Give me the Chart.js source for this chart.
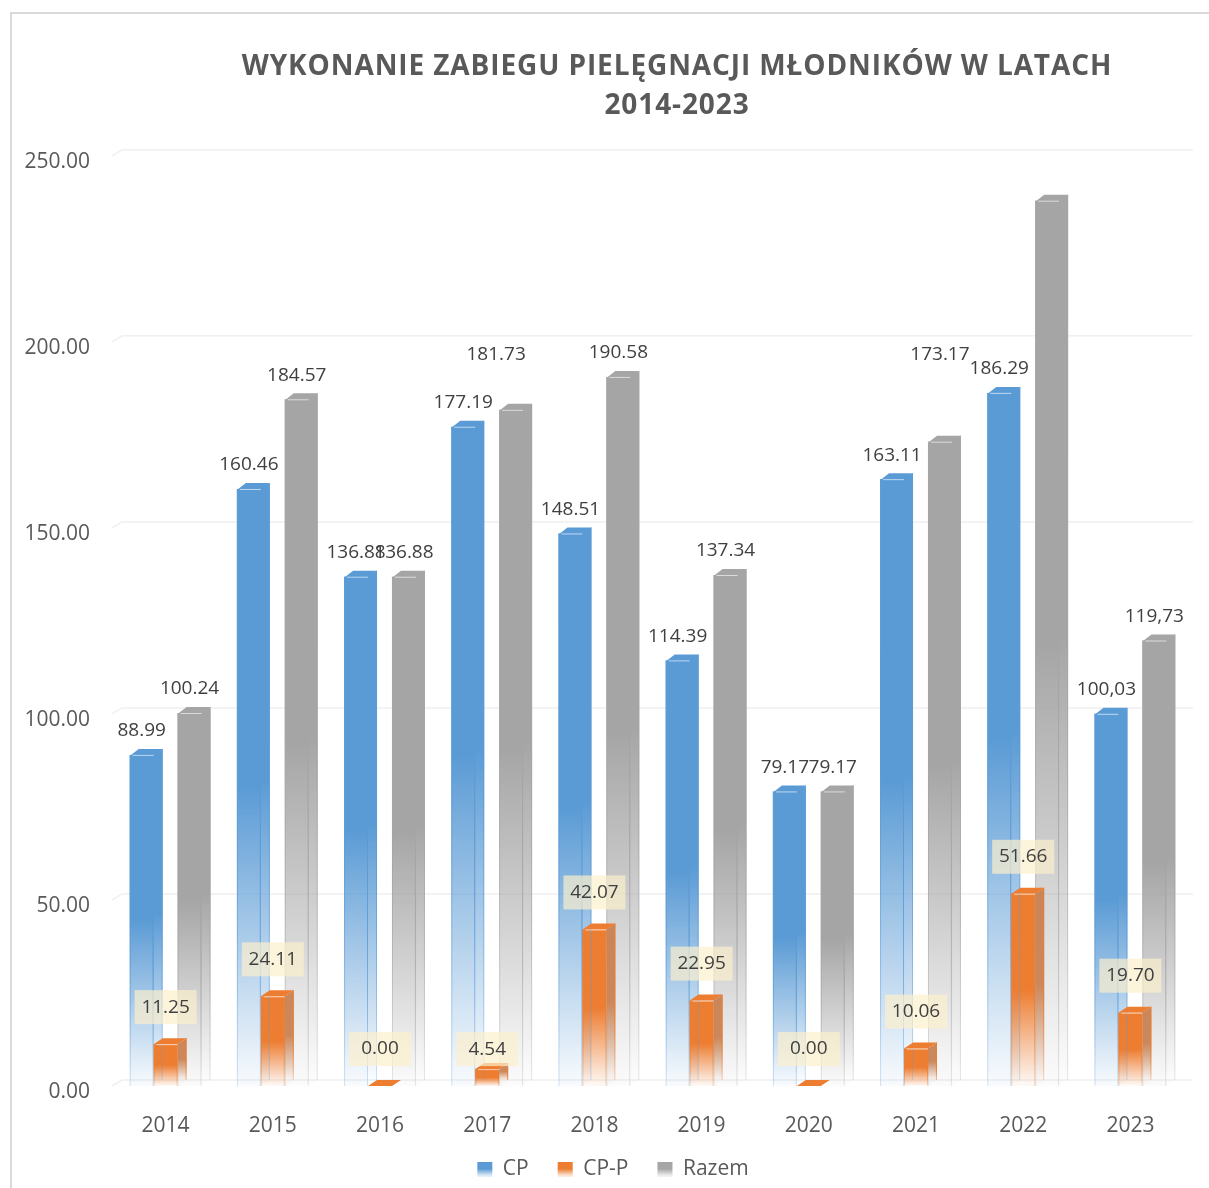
<!DOCTYPE html>
<html lang="pl">
<head>
  <meta charset="UTF-8">
  <title>Wykonanie zabiegu pielęgnacji młodników</title>
  <script src="https://cdn.jsdelivr.net/npm/chart.js"></script>
  <style>
    html, body { margin: 0; padding: 0; background: #fff; overflow: hidden; }
    #ramka { position: absolute; left: 10px; top: 12px; width: 1199px; height: 1176px; box-sizing: border-box; border-left: 2px solid #d9d9d9; border-top: 2px solid #d9d9d9; }
    #wrap { position: absolute; left: 0; top: 0; width: 1209px; height: 1188px; }
  </style>
</head>
<body>
  <div id="ramka"></div>
  <div id="wrap"><canvas id="wykres"></canvas></div>

  <script>
    const years = ['2014', '2015', '2016', '2017', '2018', '2019', '2020', '2021', '2022', '2023'];
    const cpValues = [88.99, 160.46, 136.88, 177.19, 148.51, 114.39, 79.17, 163.11, 186.29, 100.03];
    const cppValues = [11.25, 24.11, 0, 4.54, 42.07, 22.95, 0, 10.06, 51.66, 19.70];
    const razemValues = [100.24, 184.57, 136.88, 181.73, 190.58, 137.34, 79.17, 173.17, 237.95, 119.73];

    // printed labels, as they stand in the source (2023 uses a comma, 2022 Razem has none)
    const cpLabels = ['88.99', '160.46', '136.88', '177.19', '148.51', '114.39', '79.17', '163.11', '186.29', '100,03'];
    const cppLabels = ['11.25', '24.11', '0.00', '4.54', '42.07', '22.95', '0.00', '10.06', '51.66', '19.70'];
    const razemLabels = ['100.24', '184.57', '136.88', '181.73', '190.58', '137.34', '79.17', '173.17', null, '119,73'];

    const BLUE = [91, 155, 213];
    const ORANGE = [237, 125, 49];
    const GRAY = [165, 165, 165];
    const DEPTH_X = 9;
    const DEPTH_Y = 6;
    const FONT = '"Open Sans"';

    function rgba(c, a) {
      return `rgba(${c[0]},${c[1]},${c[2]},${a})`;
    }

    function fade(ctx, top, bottom, color, from, to) {
      const g = ctx.createLinearGradient(0, top, 0, bottom);
      g.addColorStop(0, rgba(color, from));
      g.addColorStop(0.5, rgba(color, from));
      g.addColorStop(1, rgba(color, to));
      return g;
    }

    function barFill(color) {
      return c => {
        if (!c.parsed) return rgba(color, 1);
        const y = c.chart.scales.y;
        return fade(c.chart.ctx, y.getPixelForValue(c.parsed.y), y.getPixelForValue(0), color, 1, 0.04);
      };
    }

    function legendBox(ctx, color) {
      const g = ctx.createLinearGradient(0, 1160, 0, 1176);
      g.addColorStop(0, rgba(color, 1));
      g.addColorStop(0.55, rgba(color, 1));
      g.addColorStop(1, rgba(color, 0.15));
      return g;
    }

    // side and top of one bar, taken from the element that Chart.js laid out
    function drawDepth(ctx, bar, color, sideColor, sideAlpha, overlap) {
      const left = bar.x - bar.width / 2, right = bar.x + bar.width / 2;
      const top = bar.y, base = bar.base;

      if (base - top > 0.5) {
        ctx.fillStyle = fade(ctx, top - DEPTH_Y, base - DEPTH_Y, sideColor, sideAlpha, 0.03);
        ctx.beginPath();
        ctx.moveTo(right - overlap, top);
        ctx.lineTo(right + DEPTH_X, top - DEPTH_Y);
        ctx.lineTo(right + DEPTH_X, base - DEPTH_Y);
        ctx.lineTo(right - overlap, base);
        ctx.closePath();
        ctx.fill();
      }

      ctx.fillStyle = rgba(color, 1);
      ctx.beginPath();
      ctx.moveTo(left, top + overlap);
      ctx.lineTo(left + DEPTH_X, top - DEPTH_Y);
      ctx.lineTo(right + DEPTH_X, top - DEPTH_Y);
      ctx.lineTo(right, top + overlap);
      ctx.closePath();
      ctx.fill();
    }

    function drawEdges(ctx, bar, color) {
      if (bar.base - bar.y < 1) return;
      const left = bar.x - bar.width / 2, right = bar.x + bar.width / 2;
      ctx.lineWidth = 1;
      ctx.strokeStyle = fade(ctx, bar.y, bar.base, color, 0.9, 0.25);
      ctx.beginPath();
      ctx.moveTo(left + 0.5, bar.y);
      ctx.lineTo(left + 0.5, bar.base);
      ctx.moveTo(right - 0.5, bar.y);
      ctx.lineTo(right - 0.5, bar.base);
      ctx.moveTo(right + DEPTH_X - 0.5, bar.y - DEPTH_Y);
      ctx.lineTo(right + DEPTH_X - 0.5, bar.base - DEPTH_Y);
      ctx.stroke();
      // light line along the front top edge
      ctx.strokeStyle = 'rgba(255,255,255,0.6)';
      ctx.beginPath();
      ctx.moveTo(left + 3, bar.y + 0.5);
      ctx.lineTo(right, bar.y + 0.5);
      ctx.stroke();
    }

    const depthPlugin = {
      id: 'depth',
      afterLayout(chart) {
        // title and legend are not centred on the canvas in the source
        const title = chart.titleBlock;
        title.left += 85;
        title.right += 85;
        chart.legend.left += 21;
        chart.legend.right += 21;
        chart.legend.top += 2;
        chart.legend.bottom += 2;
        // tick labels hang below the axis box, into the legend's padding
        chart.scales.x.bottom += 20;
        if (!title.spaced) {
          const drawTitle = title.draw;
          title.draw = function () {
            this.ctx.letterSpacing = '0.9px';
            drawTitle.call(this);
            this.ctx.letterSpacing = '0px';
          };
          title.spaced = true;
        }
      },
      beforeDatasetsDraw(chart) {
        const { ctx, scales } = chart;
        ctx.save();
        // back wall lines
        ctx.strokeStyle = '#f0f0f0';
        ctx.lineWidth = 1.5;
        scales.y.ticks.forEach((t, i) => {
          const y = scales.y.getPixelForTick(i);
          ctx.beginPath();
          ctx.moveTo(scales.x.left, y);
          ctx.lineTo(scales.x.left + 10, y - DEPTH_Y);
          ctx.lineTo(scales.x.right + 9, y - DEPTH_Y);
          ctx.stroke();
        });
        chart.getDatasetMeta(0).data.forEach(b => drawDepth(ctx, b, BLUE, BLUE, 1, 1));
        chart.getDatasetMeta(2).data.forEach(b => drawDepth(ctx, b, GRAY, GRAY, 1, 1));
        ctx.restore();
      },
      afterDatasetsDraw(chart) {
        const { ctx } = chart;
        const blue = chart.getDatasetMeta(0).data;
        const orange = chart.getDatasetMeta(1).data;
        const gray = chart.getDatasetMeta(2).data;
        ctx.save();
        blue.forEach(b => drawEdges(ctx, b, BLUE));
        gray.forEach(b => drawEdges(ctx, b, GRAY));
        orange.forEach(b => drawDepth(ctx, b, ORANGE, [200, 125, 75], 0.9, 0));
        orange.forEach(b => drawEdges(ctx, b, ORANGE));

        ctx.font = `19px ${FONT}`;
        ctx.textAlign = 'center';
        ctx.textBaseline = 'middle';
        ctx.fillStyle = '#404040';
        blue.forEach((b, i) => ctx.fillText(cpLabels[i], b.x, b.y - 24));
        gray.forEach((b, i) => {
          if (!razemLabels[i]) return;
          const moved = years[i] === '2017' ? [-15, -31] : years[i] === '2021' ? [0, -63] : [0, 0];
          ctx.fillText(razemLabels[i], b.x + moved[0], b.y - 24 + moved[1]);
        });
        orange.forEach((b, i) => {
          // 4.54 sits lower than the others in the source
          const cy = b.y - 37 + (years[i] === '2017' ? 17 : 0);
          ctx.fillStyle = 'rgba(252,240,205,0.7)';
          ctx.fillRect(b.x - 31, cy - 17, 62, 34);
          ctx.fillStyle = '#404040';
          ctx.fillText(cppLabels[i], b.x, cy);
        });
        ctx.restore();
      }
    };

    new Chart(document.getElementById('wykres'), {
      type: 'bar',
      data: {
        labels: years,
        datasets: [
          { label: 'CP', data: cpValues, backgroundColor: barFill(BLUE) },
          { label: 'CP-P', data: cppValues, backgroundColor: barFill(ORANGE) },
          { label: 'Razem', data: razemValues, backgroundColor: barFill(GRAY) }
        ]
      },
      plugins: [depthPlugin],
      options: {
        responsive: true,
        maintainAspectRatio: false,
        animation: false,
        events: [],
        layout: { padding: { right: 25, bottom: 0 } },
        datasets: { bar: { categoryPercentage: 0.67, barPercentage: 1 } },
        plugins: {
          tooltip: { enabled: false },
          title: {
            display: true,
            text: ['WYKONANIE ZABIEGU PIELĘGNACJI MŁODNIKÓW W LATACH', '2014-2023'],
            color: '#595959',
            font: { family: FONT, size: 28, weight: 'bold', lineHeight: 1.39 },
            padding: { top: 48, bottom: 30 }
          },
          legend: {
            position: 'bottom',
            labels: {
              color: '#595959',
              font: { family: FONT, size: 21 },
              boxWidth: 15,
              boxHeight: 15,
              padding: 29,
              generateLabels(chart) {
                const colors = [BLUE, ORANGE, GRAY];
                return chart.data.datasets.map((d, i) => ({
                  text: d.label,
                  fillStyle: legendBox(chart.ctx, colors[i]),
                  strokeStyle: 'transparent',
                  lineWidth: 0,
                  fontColor: '#595959',
                  datasetIndex: i
                }));
              }
            }
          }
        },
        scales: {
          x: {
            afterFit: s => { s.height = 42; },
            grid: { display: false },
            border: { display: false },
            ticks: { color: '#595959', font: { family: FONT, size: 21 }, padding: 19, maxRotation: 0 }
          },
          y: {
            min: 0,
            max: 250,
            afterFit: s => { s.width = 112; },
            grid: { display: false },
            border: { display: false },
            ticks: {
              stepSize: 50,
              color: '#595959',
              font: { family: FONT, size: 21 },
              padding: 14,
              labelOffset: 6,
              callback: v => v.toFixed(2)
            }
          }
        }
      }
    });
  </script>
</body>
</html>
